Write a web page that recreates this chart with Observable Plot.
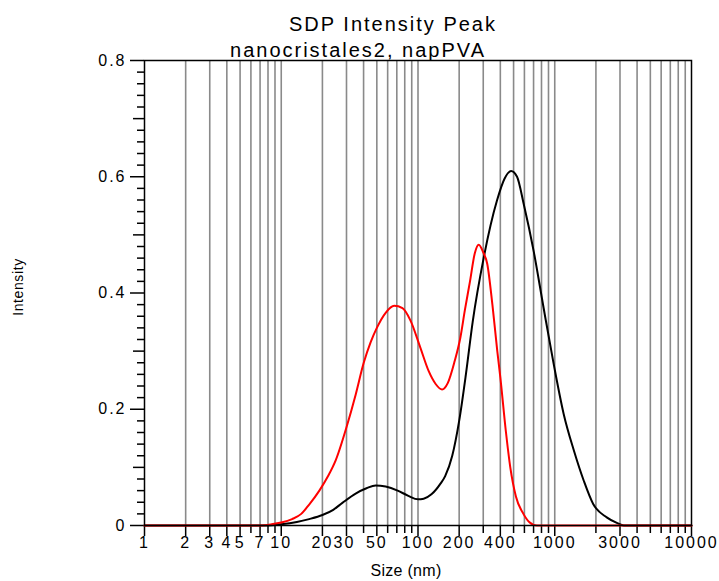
<!DOCTYPE html>
<html>
<head>
<meta charset="utf-8">
<script src="https://cdn.jsdelivr.net/npm/d3@7"></script>
<script src="https://cdn.jsdelivr.net/npm/@observablehq/plot@0.6"></script>
<style>
  html, body { margin: 0; padding: 0; background: #ffffff; }
  #wrap { position: relative; width: 719px; height: 581px; overflow: hidden; font-family: "Liberation Sans", Arial, sans-serif; color: #000; }
  #wrap svg { position: absolute; left: 0; top: 0; }
  #wrap svg text { letter-spacing: 2px; }
  .lbl { position: absolute; white-space: nowrap; line-height: 20px; }
  #title { left: 393px; top: 14px; font-size: 20px; letter-spacing: 2px; transform: translateX(-50%); }
  #subtitle { left: 358px; top: 40px; font-size: 20px; letter-spacing: 2px; transform: translateX(-50%); }
  #xlabel { left: 406px; top: 563px; font-size: 16px; line-height: 16px; letter-spacing: 0.3px; transform: translateX(-50%); }
  #ylabel { left: 18px; top: 287px; font-size: 14px; line-height: 14px; letter-spacing: 0.6px; transform: translate(-50%, -50%) rotate(-90deg); }
</style>
</head>
<body>
<div id="wrap">
  <div class="lbl" id="title">SDP Intensity Peak</div>
  <div class="lbl" id="subtitle">nanocristales2, napPVA</div>
  <div class="lbl" id="xlabel">Size (nm)</div>
  <div class="lbl" id="ylabel">Intensity</div>
</div>
<script>
// Black series (size in nm, intensity)
const blackSize = [1, 8, 10, 13, 16, 20, 24, 28, 35, 42, 49, 58, 71, 85, 100, 110, 126, 146, 158, 178, 200, 224, 251, 302, 378, 430, 479, 530, 593, 700, 828, 982, 1162, 1380, 1630, 1910, 2400, 2870, 3200, 10000];
const blackInt  = [0, 0, 0.002, 0.006, 0.011, 0.018, 0.027, 0.039, 0.055, 0.064, 0.069, 0.067, 0.060, 0.051, 0.045, 0.046, 0.054, 0.072, 0.085, 0.120, 0.180, 0.260, 0.350, 0.460, 0.559, 0.597, 0.610, 0.600, 0.553, 0.473, 0.375, 0.278, 0.192, 0.129, 0.077, 0.037, 0.014, 0.004, 0, 0];

// Red series (size in nm, intensity)
const redSize = [1, 7, 8.5, 10, 12, 14, 16, 19, 22, 25, 30, 35, 40, 45, 50, 58, 67, 77, 88, 104, 120, 135, 150, 165, 185, 204, 220, 240, 260, 278, 300, 321, 350, 380, 400, 440, 473, 520, 590, 650, 740, 10000];
const redInt  = [0, 0, 0.002, 0.005, 0.011, 0.020, 0.036, 0.060, 0.085, 0.112, 0.169, 0.225, 0.279, 0.315, 0.340, 0.366, 0.378, 0.374, 0.353, 0.306, 0.265, 0.243, 0.234, 0.245, 0.282, 0.323, 0.370, 0.420, 0.468, 0.483, 0.470, 0.450, 0.380, 0.300, 0.255, 0.160, 0.100, 0.050, 0.020, 0.006, 0, 0];

// Axis ticks
const xLabeledTicks = [1, 2, 3, 4, 5, 7, 10, 20, 30, 50, 100, 200, 400, 1000, 3000, 10000];
const xLabels = ["1", "2", "3", "4", "5", "7", "10", "20", "", "50", "100", "200", "400", "1000", "3000", "10000"];
const xShiftedTick = [30];
const xShiftedLabel = ["30"];
const xMinorTicks = [6, 8, 9, 40, 60, 70, 80, 90, 300, 500, 600, 700, 800, 900, 2000, 4000, 5000, 6000, 7000, 8000, 9000];
const xGrid = [2, 3, 4, 5, 6, 7, 8, 9, 10, 20, 30, 40, 50, 60, 70, 80, 90, 100, 200, 300, 400, 500, 600, 700, 800, 900, 1000, 2000, 3000, 4000, 5000, 6000, 7000, 8000, 9000];
const yMajorTicks = [0, 0.2, 0.4, 0.6, 0.8];
const yLabels = ["0", "0.2", "0.4", "0.6", "0.8"];
const yMidTicks = [0.1, 0.3, 0.5, 0.7];
const yMinorTicks = [0.02, 0.04, 0.06, 0.08, 0.12, 0.14, 0.16, 0.18, 0.22, 0.24, 0.26, 0.28, 0.32, 0.34, 0.36, 0.38, 0.42, 0.44, 0.46, 0.48, 0.52, 0.54, 0.56, 0.58, 0.62, 0.64, 0.66, 0.68, 0.72, 0.74, 0.76, 0.78];

const black = blackSize.map((s, i) => ({size: s, intensity: blackInt[i]}));
const red = redSize.map((s, i) => ({size: s, intensity: redInt[i]}));
const xLab = xLabeledTicks.map((v, i) => ({v, t: xLabels[i]}));
const xLab2 = xShiftedTick.map((v, i) => ({v, t: xShiftedLabel[i]}));
const yLab = yMajorTicks.map((v, i) => ({v, t: yLabels[i]}));
const noText = () => "";

const chart = Plot.plot({
  width: 719,
  height: 581,
  marginLeft: 144,
  marginRight: 28,
  marginTop: 60,
  marginBottom: 56,
  style: {fontFamily: '"Liberation Sans", Arial, sans-serif', fontSize: "16px", background: "transparent", color: "#000"},
  x: {type: "log", domain: [1, 10000], label: null},
  y: {domain: [0, 0.8], label: null},
  marks: [
    Plot.ruleX(xGrid, {stroke: "#8a8a8a", strokeWidth: 1.6}),
    Plot.axisX({ticks: xLabeledTicks, tickSize: 11, strokeWidth: 1.5, tickFormat: noText, label: null}),
    Plot.axisX({ticks: xMinorTicks, tickSize: 8, strokeWidth: 1.5, tickFormat: noText, label: null}),
    Plot.text(xLab, {x: "v", text: "t", frameAnchor: "bottom", dy: 11, dx: 0, lineAnchor: "top", fontSize: 16, fill: "#000"}),
    Plot.text(xLab2, {x: "v", text: "t", frameAnchor: "bottom", dy: 11, dx: -2, lineAnchor: "top", fontSize: 16, fill: "#000"}),
    Plot.axisY({ticks: yMajorTicks, tickSize: 14, strokeWidth: 1.5, tickFormat: noText, label: null}),
    Plot.axisY({ticks: yMidTicks, tickSize: 11, strokeWidth: 1.5, tickFormat: noText, label: null}),
    Plot.axisY({ticks: yMinorTicks, tickSize: 7, strokeWidth: 1.5, tickFormat: noText, label: null}),
    Plot.text(yLab, {y: "v", text: "t", frameAnchor: "left", dx: -18, textAnchor: "end", fontSize: 16, fill: "#000"}),
    Plot.line(black, {x: "size", y: "intensity", stroke: "#000000", strokeWidth: 2, curve: "monotone-x"}),
    Plot.line(red, {x: "size", y: "intensity", stroke: "#ff0000", strokeWidth: 2, curve: "monotone-x"}),
    Plot.frame({stroke: "#000000", strokeWidth: 1.5})
  ]
});
document.getElementById("wrap").prepend(chart);
</script>
</body>
</html>
